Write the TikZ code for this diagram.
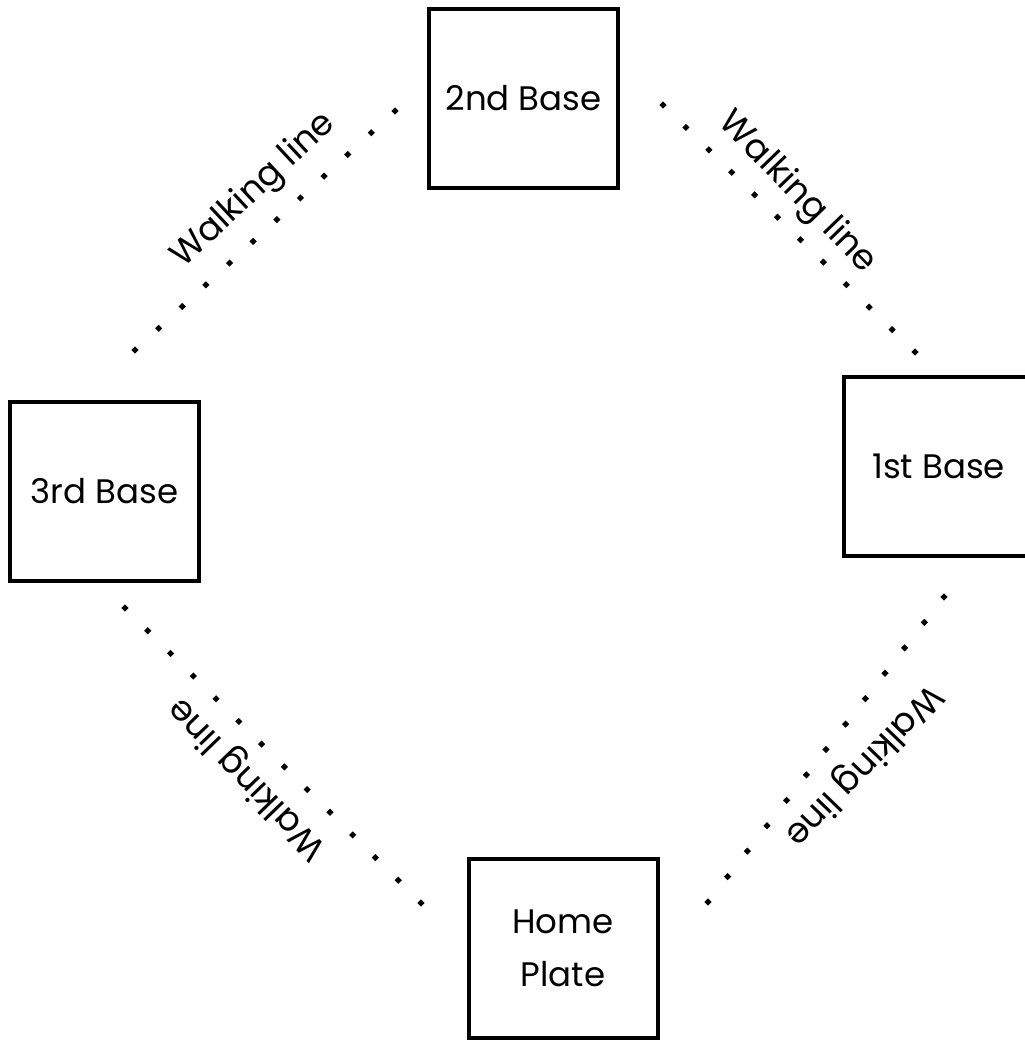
\documentclass[tikz,border=0pt]{standalone}
\usepackage{fontspec}
\setmainfont{Poppins}
\usetikzlibrary{calc}
\begin{document}
\begin{tikzpicture}[x=1pt,y=-1pt,
  base/.style={draw, line width=4pt, minimum width=189pt, minimum height=179pt, inner sep=0pt, align=center, font=\fontsize{34}{53}\selectfont},
  walk/.style={font=\fontsize{35}{40}\selectfont, inner sep=0pt}]
\useasboundingbox (0,0) rectangle (1025,1042);
\fill[white] (0,0) rectangle (1025,1042);
\node[base] (second) at (523.5,98.5) {2nd Base};
\node[base] (first) at (938.5,466) {1st Base};
\node[base] (third) at (104.5,491.5) {3rd Base};
\node[base] (home) at (563,948.5) {Home\\Plate};
% dotted walking lines
\coordinate (ulA) at (135,350); \coordinate (ulB) at (395,111);
\coordinate (urA) at (663,105); \coordinate (urB) at (915,352);
\coordinate (llA) at (125,608); \coordinate (llB) at (421,903);
\coordinate (lrA) at (944,597); \coordinate (lrB) at (708,902);
\newcommand{\dotline}[3]{%
  \foreach \i in {0,...,#3} {
    \fill ($(#1)!\i/#3!(#2)$) +(0,-3.6) -- +(3.6,0) -- +(0,3.6) -- +(-3.6,0) -- cycle;
  }}
\dotline{ulA}{ulB}{11}
\dotline{urA}{urB}{11}
\dotline{llA}{llB}{13}
\dotline{lrA}{lrB}{12}
\node[walk, rotate=43] (tUL) at (254,191) {Walking line};
\node[walk, rotate=-46] (tUR) at (797,193) {Walking line};
\node[walk, rotate=134] (tLL) at (248,778) {Walking line};
\node[walk, rotate=-134] (tLR) at (863,765) {Walking line};
\end{tikzpicture}
\end{document}
